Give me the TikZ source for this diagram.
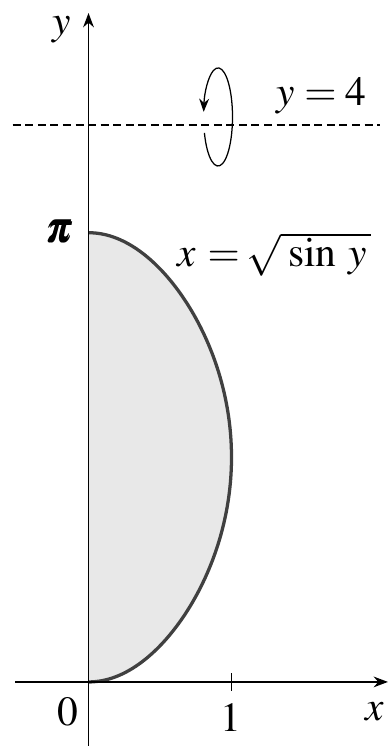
\documentclass[tikz,border=0pt]{standalone}
\usepackage{mathptmx,bm}
\usetikzlibrary{arrows.meta}

\begin{document}
\begin{tikzpicture}[x=2cm,y=2cm,>=Stealth,every node/.style={font=\fontsize{16.5}{19}\selectfont}]
  \tikzset{ax/.style={->,line width=0.6pt},crv/.style={line width=1.3pt,black!75}}
  \useasboundingbox (-0.619,-0.448) rectangle (2.101,4.769);
  \coordinate (o) at (0,0);
  \coordinate (xl) at (-0.514,0);
  \coordinate (xr) at (2.094,0);
  \coordinate (yb) at (0,-0.448);
  \coordinate (yt) at (0,4.678);
  \coordinate (dl) at (-0.53,3.895);
  \coordinate (dr) at (2.04,3.895);
  \coordinate (rot) at (0.906,3.951);
  \coordinate (one) at (1,0);
  % region and curve
  \fill[gray!18] plot[domain=0:180,samples=150] ({sqrt(abs(sin(90*(1-cos(\x)))))},{pi/2*(1-cos(\x))}) -- cycle;
  \draw[crv] plot[domain=0:180,samples=150] ({sqrt(abs(sin(90*(1-cos(\x)))))},{pi/2*(1-cos(\x))});
  \draw[ax] (xl) -- (xr);
  \draw[ax] (yb) -- (yt);
  \draw[line width=0.6pt] (one) ++(0,0.06) -- ++(0,-0.12);
  \draw[line width=0.6pt,dash pattern=on 3.2pt off 1.8pt] (dl) -- (dr);
  \draw[->,line width=0.5pt] (rot) ++(199:0.101 and 0.343)
    arc[start angle=199,end angle=534,x radius=0.101,y radius=0.343];
  % labels
  \node (ylab) at (-0.19,4.56) {$y$};
  \node (pilab) at (-0.2,3.15) {$\bm{\pi}$};
  \node (curvelab) at (1.30,2.99)
    {$x\mkern5mu{=}\mkern3mu\sqrt{\mkern3mu\sin\mkern3mu y\mkern2mu}$};
  \node (linelab) at (1.63,4.1) {$y=4$};
  \node (zero) at (-0.143,-0.21) {$0$};
  \node (onelab) at (0.997,-0.25) {$1$};
  \node (xlab) at (2.0,-0.21) {$x$};
\end{tikzpicture}
\end{document}
